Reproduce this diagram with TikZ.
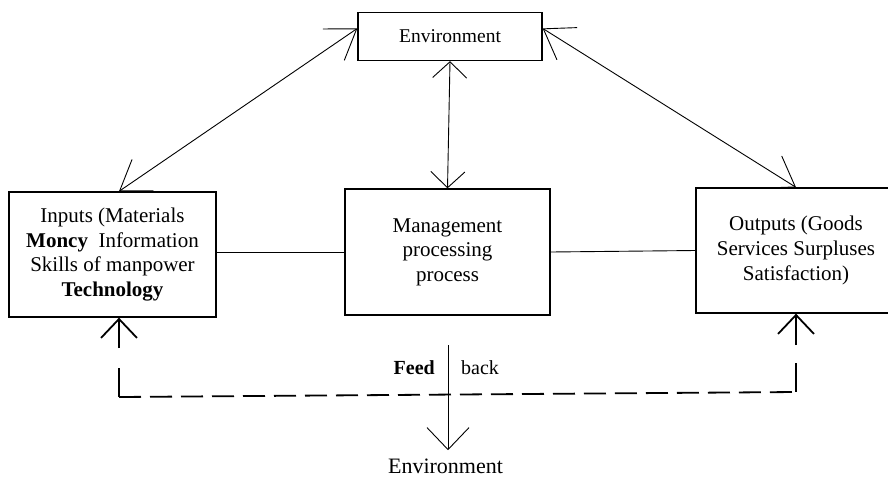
\documentclass[tikz,border=0pt]{standalone}
\usepackage{fontspec}
\setmainfont{Liberation Serif}
\usetikzlibrary{arrows.meta,calc}

\begin{document}
\begin{tikzpicture}[x=1pt,y=-1pt,
  box/.style={draw,line width=1.3pt,rectangle,inner sep=0pt,align=center,
    font=\fontsize{21}{24.6}\selectfont},
  link/.style={line width=0.9pt},
  fbline/.style={line width=1.8pt},
  diagtip/.style={arrows={Straight Barb[length=28pt,width=38pt]-Straight Barb[length=28pt,width=38pt]}},
  midtip/.style={arrows={Straight Barb[length=16pt,width=34pt]-Straight Barb[length=16pt,width=34pt]}},
  uptip/.style={arrows={-Straight Barb[length=19pt,width=36pt]}},
  outtip/.style={arrows={-Straight Barb[length=22pt,width=42pt]}},
  label/.style={inner sep=0pt,font=\fontsize{20}{22}\selectfont}
]
\useasboundingbox (0,0) rectangle (888,480);
\clip (0,0) rectangle (888,480);

% boxes
\node[box,minimum width=184pt,minimum height=48pt,font=\fontsize{19.5}{22}\selectfont]
  (envtop) at (450,36.5) {Environment};
\node[box,minimum width=207pt,minimum height=125pt]
  (inputs) at (112.5,254.5) {Inputs (Materials\\{\bfseries Moncy}\ \ Information\\Skills\ of\ manpower\\{\bfseries Technology}};
\node[box,minimum width=205pt,minimum height=126pt]
  (mgmt) at (447.5,252) {Management\\processing\\process};
\node[box,minimum width=200pt,minimum height=125pt]
  (outputs) at (796,250.5) {Outputs\ (Goods\\Services Surpluses\\Satisfaction)};

% links with the environment
\draw[link,diagtip] (envtop.175) -- ([xshift=6.5pt]inputs.north);
\draw[link,diagtip] (envtop.5) -- (outputs.north);
\draw[link,midtip] (envtop.south) -- (mgmt.north);

% flow between the boxes
\draw[link] (mgmt.west -| inputs.east) -- (mgmt.west);
\draw[link] (mgmt.east) -- (outputs.west);

% feedback loop
\coordinate (fbLtop) at (119,348);
\coordinate (fbLmid) at (119,368);
\coordinate (fbL) at (119,397);
\coordinate (fbR) at (796,392);
\coordinate (fbRmid) at (796,363);
\coordinate (fbRtop) at (796,345);
\draw[fbline,uptip] (fbLtop) -- ([xshift=6.5pt]inputs.south);
\draw[fbline,uptip] (fbRtop) -- (outputs.south);
\draw[fbline] (fbLmid) -- (fbL);
\draw[fbline] (fbRmid) -- (fbR);
\draw[fbline,dash pattern=on 22pt off 9pt] (fbL) -- (fbR);

% output to the environment
\node[anchor=base,inner xsep=0pt,inner ysep=8pt,font=\fontsize{22}{24}\selectfont]
  (envbot) at (445.5,473) {Environment};
\coordinate (outflow) at (448,345);
\draw[link,outtip] (outflow) -- (outflow |- envbot.north);
\node[label,anchor=east,font=\fontsize{20}{22}\selectfont\bfseries] (feed) at (435,368) {Feed};
\node[label,anchor=west] (back) at (461,368) {back};
\end{tikzpicture}
\end{document}
